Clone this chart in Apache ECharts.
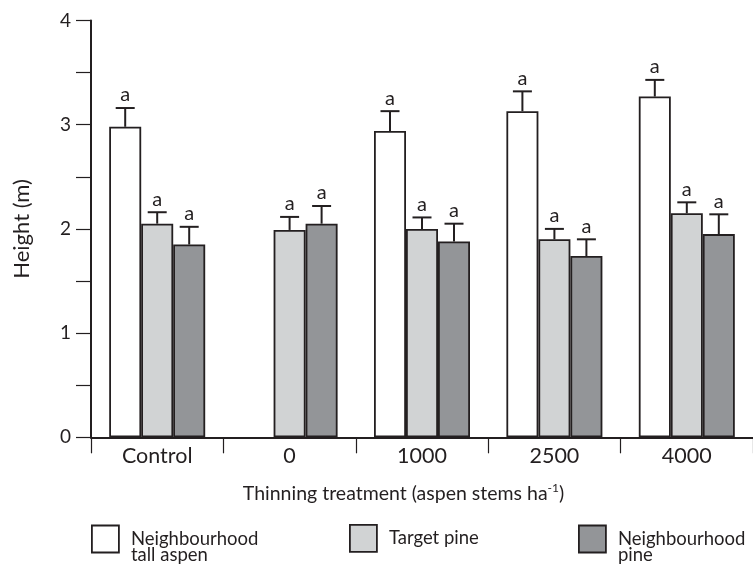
<!DOCTYPE html>
<html>
<head>
<meta charset="utf-8">
<script src="https://cdn.jsdelivr.net/npm/echarts@6/dist/echarts.min.js"></script>
<style>
  html, body { margin: 0; padding: 0; background: #fff; }
  #chart { width: 753px; height: 564px; }
</style>
</head>
<body>
<div id="chart"></div>
<script>
// Thinning treatments along the x axis
const categories = ['Control', '0', '1000', '2500', '4000'];

// Mean heights (m) and standard errors per group
const tallAspen = [2.98, null, 2.94, 3.13, 3.27];
const tallAspenErr = [0.18, null, 0.19, 0.19, 0.16];
const targetPine = [2.05, 1.99, 2.00, 1.90, 2.15];
const targetPineErr = [0.11, 0.125, 0.11, 0.10, 0.105];
const neighPine = [1.85, 2.05, 1.88, 1.74, 1.95];
const neighPineErr = [0.17, 0.17, 0.17, 0.16, 0.19];

// Significance letters above each bar
const tallAspenLetters = ['a', null, 'a', 'a', 'a'];
const targetPineLetters = ['a', 'a', 'a', 'a', 'a'];
const neighPineLetters = ['a', 'a', 'a', 'a', 'a'];

const seriesNames = ['Neighbourhood\ntall aspen', 'Target pine', 'Neighbourhood\npine'];

const INK = '#231f20';
const FONT = 'Lato';
const BAR_W = 32;

// Error-bar records: [category index, slot, mean, error]
const errRecords = [];
const errLetters = [];
[[tallAspen, tallAspenErr, tallAspenLetters],
 [targetPine, targetPineErr, targetPineLetters],
 [neighPine, neighPineErr, neighPineLetters]].forEach(function (s, slot) {
  s[0].forEach(function (v, i) {
    if (v == null) return;
    errRecords.push([i, slot, v, s[1][i]]);
    errLetters.push(s[2][i]);
  });
});

const chart = echarts.init(document.getElementById('chart'), null, { renderer: 'canvas' });

const barStyle = function (color) {
  return { color: color, borderColor: INK, borderWidth: 1.8 };
};

const legendBase = {
  orient: 'horizontal',
  padding: 0,
  itemWidth: 27,
  itemHeight: 27,
  icon: 'rect',
  selectedMode: false,
  itemStyle: { borderColor: INK, borderWidth: 1.8 },
  textStyle: { fontFamily: FONT, fontSize: 18.5, color: INK, lineHeight: 16, padding: [0, 0, 0, 7] }
};

// Two-line entries: a leading blank line keeps the first line level with the swatch
const hangingLabel = function (name) { return '\n' + name; };

chart.setOption({
  animation: false,
  backgroundColor: '#ffffff',
  textStyle: { fontFamily: FONT },
  grid: { left: 91, top: 20.5, right: -4, bottom: 126.7, containLabel: false },
  legend: [
    Object.assign({}, legendBase, { left: 91, top: 513.5, data: [seriesNames[0]], formatter: hangingLabel }),
    Object.assign({}, legendBase, { left: 349, top: 524, data: [seriesNames[1]] }),
    Object.assign({}, legendBase, { left: 578, top: 513.5, data: [seriesNames[2]], formatter: hangingLabel })
  ],
  xAxis: {
    type: 'category',
    data: categories,
    boundaryGap: true,
    axisLine: { lineStyle: { color: INK, width: 2 } },
    axisTick: { show: true, length: 16, inside: false, alignWithLabel: false, interval: 0,
      lineStyle: { color: INK, width: 1.2 } },
    axisLabel: { fontFamily: FONT, fontSize: 21.5, color: INK, margin: 8, interval: 0 },
    name: '{m|Thinning treatment (aspen stems ha}{s|-1}{m|)}',
    nameLocation: 'middle',
    nameGap: 45,
    nameTextStyle: {
      padding: [0, 37, 0, 0],
      rich: {
        m: { fontFamily: FONT, fontSize: 19.5, color: INK, lineHeight: 22 },
        s: { fontFamily: FONT, fontSize: 12, color: INK, lineHeight: 12, verticalAlign: 'top' }
      }
    }
  },
  yAxis: {
    type: 'value',
    min: 0,
    max: 4,
    interval: 0.5,
    splitLine: { show: false },
    axisLine: { show: true, lineStyle: { color: INK, width: 2 } },
    axisTick: { show: true, length: 15, inside: false, lineStyle: { color: INK, width: 1.2 } },
    axisLabel: {
      fontFamily: FONT, fontSize: 19, color: INK, margin: 20,
      formatter: function (v) { return Number.isInteger(v) ? String(v) : ''; }
    },
    name: 'Height (m)',
    nameLocation: 'middle',
    nameGap: 58,
    nameTextStyle: { fontFamily: FONT, fontSize: 22, color: INK }
  },
  series: [
    { name: seriesNames[0], type: 'bar', data: tallAspen, barWidth: BAR_W, barGap: '0%',
      itemStyle: barStyle('#ffffff') },
    { name: seriesNames[1], type: 'bar', data: targetPine, barWidth: BAR_W, barGap: '0%',
      itemStyle: barStyle('#d1d3d4') },
    { name: seriesNames[2], type: 'bar', data: neighPine, barWidth: BAR_W, barGap: '0%',
      itemStyle: barStyle('#939598') },
    {
      name: 'errors',
      type: 'custom',
      data: errRecords,
      encode: { x: 0, y: 2 },
      z: 5,
      silent: true,
      renderItem: function (params, api) {
        const ci = api.value(0);
        const slot = api.value(1);
        const mean = api.value(2);
        const err = api.value(3);
        const base = api.coord([ci, mean]);
        const top = api.coord([ci, mean + err]);
        const x = base[0] + (slot - 1) * BAR_W;
        const lineStyle = { stroke: INK, lineWidth: 2 };
        return {
          type: 'group',
          children: [
            { type: 'line', shape: { x1: x, y1: base[1], x2: x, y2: top[1] }, style: lineStyle },
            { type: 'line', shape: { x1: x - 9.5, y1: top[1], x2: x + 9.5, y2: top[1] }, style: lineStyle },
            { type: 'text', x: x, y: top[1] - 3,
              style: { text: errLetters[params.dataIndex], fill: INK, font: '20px ' + FONT,
                align: 'center', verticalAlign: 'bottom' } }
          ]
        };
      }
    }
  ]
});
</script>
</body>
</html>
